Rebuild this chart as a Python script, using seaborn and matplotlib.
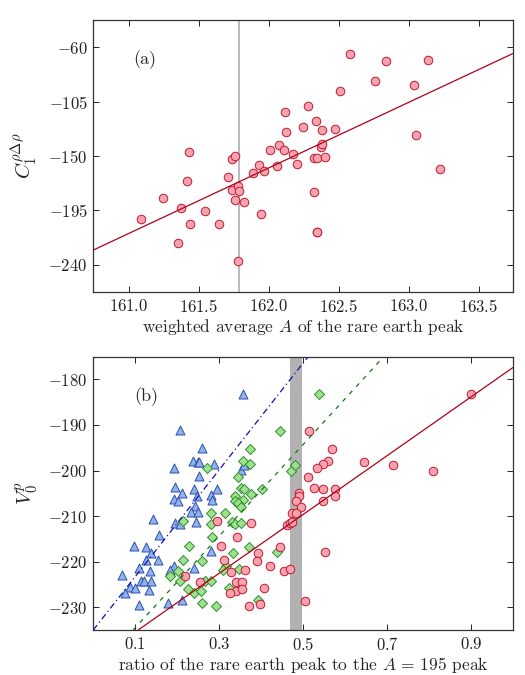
import matplotlib
matplotlib.use("Agg")
import matplotlib.pyplot as plt
import numpy as np
import seaborn as sns

# panel (a): weighted average A vs C1
a_A = [161.083, 161.245, 161.352, 161.374, 161.414, 161.426, 161.436, 161.545, 161.645, 161.709,
       161.738, 161.760, 161.738, 161.781, 161.790, 161.760, 161.821, 161.776, 161.888, 161.931,
       161.964, 161.945, 162.007, 162.059, 162.076, 162.109, 162.114, 162.126, 162.174, 162.200,
       162.243, 162.281, 162.338, 162.321, 162.345, 162.324, 162.345, 162.345, 162.379, 162.371,
       162.381, 162.402, 162.474, 162.510, 162.581, 162.760, 162.834, 163.036, 163.055, 163.136,
       163.224]
a_C = [-201.8, -185.0, -221.6, -193.3, -170.7, -146.8, -205.9, -195.2, -206.4, -167.2,
       -152.6, -149.9, -178.4, -174.6, -179.2, -186.4, -188.0, -236.7, -163.9, -157.8,
       -162.7, -197.7, -145.4, -158.6, -141.0, -144.9, -113.8, -130.3, -148.5, -156.5,
       -126.0, -108.3, -120.7, -151.8, -151.8, -180.0, -212.8, -212.8, -128.9, -142.4,
       -140.0, -151.2, -127.3, -96.5, -65.4, -88.3, -71.5, -91.0, -132.5, -71.0,
       -160.8]
a_fit = (162.0, -159.8, 54.2)   # x0, y at x0, slope
a_cut = 161.79

# panel (b): ratio vs V0, three groups
tri_x = [0.357, 0.206, 0.259, 0.237, 0.249, 0.251, 0.287, 0.192, 0.253, 0.351,
         0.358, 0.1945, 0.240, 0.295, 0.2105, 0.246, 0.2795, 0.193, 0.2017, 0.284,
         0.243, 0.2326, 0.2485, 0.142, 0.194, 0.206, 0.2445, 0.1557, 0.0976, 0.1248,
         0.138, 0.1248, 0.153, 0.281, 0.192, 0.1826, 0.1095, 0.1357, 0.240, 0.069,
         0.1129, 0.1214, 0.1386, 0.0874, 0.0993, 0.132, 0.0748, 0.2106, 0.178, 0.108]
tri_y = [-183.1, -191.1, -195.1, -197.9, -198.1, -198.1, -198.5, -199.4, -201.3, -199.8,
         -198.7, -203.6, -204.0, -204.0, -205.0, -205.5, -205.4, -206.3, -206.6, -206.5,
         -207.7, -209.1, -209.1, -210.7, -211.5, -211.7, -211.4, -214.2, -216.5, -216.7,
         -218.0, -219.6, -219.7, -217.7, -220.9, -221.8, -221.5, -222.0, -221.5, -222.9,
         -224.2, -224.3, -224.2, -225.5, -225.7, -226.3, -226.8, -228.4, -229.0, -229.6]

dia_x = [0.538, 0.446, 0.374, 0.3564, 0.374, 0.270, 0.4795, 0.4707, 0.344, 0.3517,
         0.359, 0.4017, 0.3367, 0.3755, 0.338, 0.3564, 0.344, 0.351, 0.2802, 0.3143,
         0.2143, 0.2795, 0.331, 0.338, 0.3524, 0.2817, 0.2286, 0.3714, 0.3333, 0.438,
         0.2135, 0.2588, 0.3167, 0.308, 0.2024, 0.3476, 0.1826, 0.2071, 0.266, 0.2802,
         0.2262, 0.3224, 0.2405, 0.2564, 0.3929, 0.2595, 0.2929]
dia_y = [-183.2, -191.3, -195.3, -197.9, -198.6, -199.5, -198.9, -200.0, -201.5, -203.8,
         -204.0, -204.1, -205.5, -205.2, -206.8, -206.5, -207.2, -208.0, -209.4, -209.4,
         -211.0, -211.7, -211.4, -211.8, -211.6, -214.5, -216.5, -216.8, -218.0, -217.9,
         -219.6, -219.8, -220.9, -221.9, -222.1, -221.6, -223.1, -224.3, -224.3, -224.3,
         -225.9, -225.7, -226.9, -226.5, -228.5, -229.0, -229.7]

circ_x = [0.899, 0.514, 0.568, 0.559, 0.547, 0.533, 0.646, 0.714, 0.810, 0.512,
          0.526, 0.547, 0.5748, 0.4905, 0.491, 0.576, 0.484, 0.547, 0.4938, 0.474,
          0.482, 0.295, 0.3755, 0.4605, 0.468, 0.474, 0.343, 0.3033, 0.446, 0.5517,
          0.392, 0.3105, 0.3905, 0.328, 0.362, 0.420, 0.4548, 0.4688, 0.219, 0.254,
          0.339, 0.3543, 0.339, 0.3543, 0.3248, 0.4064, 0.3707, 0.397, 0.5048]
circ_y = [-183.2, -191.3, -195.3, -198.0, -198.5, -199.5, -198.2, -198.9, -200.0, -201.5,
          -203.9, -204.0, -204.1, -205.0, -205.7, -205.6, -206.8, -206.6, -207.9, -209.4,
          -209.4, -211.0, -211.6, -211.9, -211.6, -211.3, -214.5, -216.6, -216.8, -217.8,
          -218.1, -219.6, -219.9, -222.2, -221.8, -220.9, -222.0, -221.6, -223.1, -224.4,
          -224.4, -224.4, -226.4, -225.9, -226.8, -225.7, -229.7, -229.2, -228.6]

# fit lines (intercept at x=0, slope)
tri_fit = (-235.0, 117.2)
dia_fit = (-244.55, 100.5)
circ_fit = (-241.9, 64.5)
band = (0.469, 0.498)

sns.set_style("ticks")
plt.rcParams["font.family"] = ["cmr10", "DejaVu Serif"]
plt.rcParams["mathtext.fontset"] = "cm"
plt.rcParams["axes.formatter.use_mathtext"] = True
plt.rcParams["font.size"] = 12
plt.rcParams["axes.edgecolor"] = "#333333"
plt.rcParams["axes.linewidth"] = 0.9

red_face, red_edge = "#f5a3ae", "#c01a30"
grn_face, grn_edge = "#9ee08e", "#2f8f2f"
blu_face, blu_edge = "#92b2ea", "#2a4fb0"

fig = plt.figure(figsize=(5.25, 6.75), dpi=100)
ax1 = fig.add_axes([0.1777, 0.5674, 0.7994, 0.4030])
ax2 = fig.add_axes([0.1777, 0.0667, 0.7994, 0.4050])

# (a)
ax1.axvline(a_cut, color="#b4b4b4", lw=1.3, zorder=1)
sns.scatterplot(x=a_A, y=a_C, ax=ax1, marker="o", s=38, color=red_face,
                edgecolor=red_edge, linewidth=0.7, zorder=2)
x0, y0, k = a_fit
ax1.axline((x0, y0), slope=k, color="#b00018", lw=0.9, zorder=3)
ax1.set_xlim(160.745, 163.745)
ax1.set_ylim(-262.5, -37.5)
ax1.set_xticks([161, 161.5, 162, 162.5, 163, 163.5])
ax1.set_yticks([-240, -195, -150, -105, -60])
ax1.set_xlabel("weighted average $A$ of the rare earth peak", fontsize=12.5, labelpad=2)
ax1.set_ylabel(r"$C_1^{\rho\Delta\rho}$", fontsize=15, labelpad=6)
ax1.text(0.123, 0.853, "(a)", transform=ax1.transAxes, fontsize=13,
         ha="center", va="center")

# (b)
ax2.axvspan(band[0], band[1], color="#b2b2b2", lw=0, zorder=1)
sns.scatterplot(x=tri_x, y=tri_y, ax=ax2, marker="^", s=42, color=blu_face,
                edgecolor=blu_edge, linewidth=0.7, zorder=2)
sns.scatterplot(x=dia_x, y=dia_y, ax=ax2, marker="D", s=26, color=grn_face,
                edgecolor=grn_edge, linewidth=0.7, zorder=2)
sns.scatterplot(x=circ_x, y=circ_y, ax=ax2, marker="o", s=38, color=red_face,
                edgecolor=red_edge, linewidth=0.7, zorder=2)
ax2.axline((0, tri_fit[0]), slope=tri_fit[1], color="#1010b0", lw=0.9,
           ls=(0, (5, 2.5, 1, 2.5)), zorder=3)
ax2.axline((0, dia_fit[0]), slope=dia_fit[1], color="#107a10", lw=0.9,
           ls=(0, (3.5, 4.5)), zorder=3)
ax2.axline((0, circ_fit[0]), slope=circ_fit[1], color="#b00018", lw=0.9, zorder=3)
ax2.set_xlim(0, 1)
ax2.set_ylim(-235, -175)
ax2.set_xticks([0.1, 0.3, 0.5, 0.7, 0.9])
ax2.set_yticks([-230, -220, -210, -200, -190, -180])
ax2.set_xlabel(r"ratio of the rare earth peak to the $A\,=\,195$ peak", fontsize=12.5, labelpad=2)
ax2.set_ylabel("$V_0^p$", fontsize=15, labelpad=6)
ax2.text(0.126, 0.854, "(b)", transform=ax2.transAxes, fontsize=13,
         ha="center", va="center")

for ax in (ax1, ax2):
    ax.tick_params(direction="in", top=True, right=True, length=4, width=0.7,
                   labelsize=12, colors="#222222", pad=4)
    for s in ax.spines.values():
        s.set_visible(True)

fig.savefig("out.png", dpi=100)
